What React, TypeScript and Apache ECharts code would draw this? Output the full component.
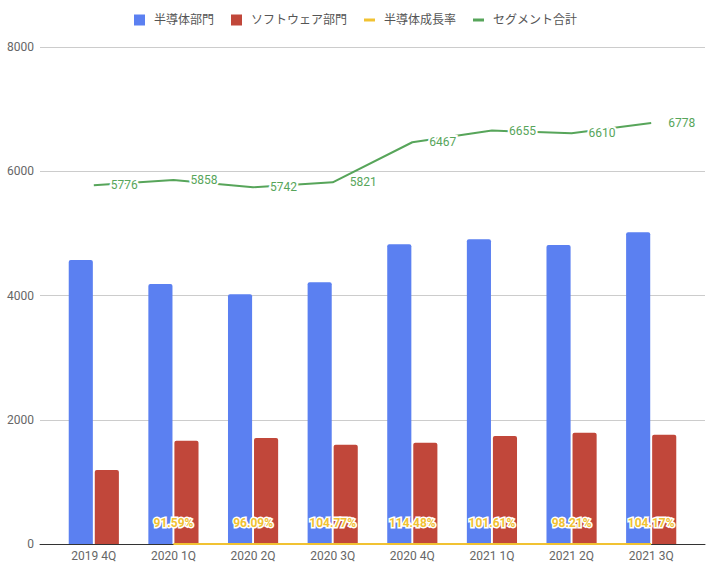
import React, { useEffect, useRef } from "react";
import * as echarts from "echarts";

const categories = ["2019 4Q", "2020 1Q", "2020 2Q", "2020 3Q", "2020 4Q", "2021 1Q", "2021 2Q", "2021 3Q"];
const semiconductor = [4570, 4185, 4022, 4215, 4826, 4905, 4813, 5018];
const software = [1190, 1660, 1708, 1596, 1628, 1740, 1790, 1757];
const growthPct: (number | null)[] = [null, 91.59, 96.09, 104.77, 114.48, 101.61, 98.21, 104.17];
const segmentTotal = [5776, 5858, 5742, 5821, 6467, 6655, 6610, 6778];
const yTicks = [0, 2000, 4000, 6000, 8000];

const BLUE = "#5B80F1";
const RED = "#C1473A";
const YELLOW = "#F1C232";
const GREEN = "#57A55A";
const FONT = "Roboto, 'Noto Sans CJK JP', sans-serif";

const lineIcon = "path://M0,0M0,4L11,4L11,7L0,7ZM11,11";

export default function App() {
  const ref = useRef<HTMLDivElement>(null);
  useEffect(() => {
    if (!ref.current) return;
    const chart = echarts.init(ref.current, undefined, { renderer: "svg" });
    const yMin = yTicks[0];
    const yMax = yTicks[yTicks.length - 1];
    chart.setOption({
      animation: false,
      textStyle: { fontFamily: FONT },
      legend: {
        top: 9,
        left: "center",
        itemWidth: 11,
        itemHeight: 11,
        itemGap: 17,
        textStyle: { color: "#555", fontSize: 12, fontFamily: FONT, padding: [0, 0, 0, 4] },
        data: [
          { name: "半導体部門", icon: "rect" },
          { name: "ソフトウェア部門", icon: "rect" },
          { name: "半導体成長率", icon: lineIcon, itemStyle: { color: YELLOW } },
          { name: "セグメント合計", icon: lineIcon, itemStyle: { color: GREEN } },
        ],
      },
      grid: [
        { left: 40, right: 6, top: 47, bottom: 29 },
        { left: 54, right: 20, top: 47, bottom: 29 },
      ],
      xAxis: [
        {
          gridIndex: 0,
          type: "value",
          min: 0,
          max: 1,
          axisTick: { show: false },
          axisLabel: { show: false },
          splitLine: { show: false },
          axisLine: { show: true, onZero: false, lineStyle: { color: "#333", width: 1 } },
        },
        {
          gridIndex: 1,
          type: "category",
          data: categories,
          axisTick: { show: false },
          axisLine: { show: false },
          axisLabel: { color: "#666", fontSize: 12, margin: 6, fontFamily: FONT },
        },
      ],
      yAxis: [
        {
          gridIndex: 0,
          type: "value",
          min: yMin,
          max: yMax,
          interval: 2000,
          axisLine: { show: false },
          axisTick: { show: false },
          axisLabel: { color: "#666", fontSize: 12, margin: 6, fontFamily: FONT, formatter: (v: number) => String(v) },
          splitLine: { lineStyle: { color: "#ccc", width: 1 } },
        },
        {
          gridIndex: 1,
          type: "value",
          min: yMin,
          max: yMax,
          interval: 2000,
          axisLine: { show: false },
          axisTick: { show: false },
          axisLabel: { show: false },
          splitLine: { show: false },
        },
      ],
      series: [
        {
          name: "半導体部門",
          type: "bar",
          xAxisIndex: 1,
          yAxisIndex: 1,
          data: semiconductor,
          barGap: "8%",
          barCategoryGap: "37%",
          itemStyle: { color: BLUE, borderRadius: [2, 2, 0, 0] },
        },
        {
          name: "ソフトウェア部門",
          type: "bar",
          xAxisIndex: 1,
          yAxisIndex: 1,
          data: software,
          itemStyle: { color: RED, borderRadius: [2, 2, 0, 0] },
        },
        {
          name: "半導体成長率",
          type: "line",
          xAxisIndex: 1,
          yAxisIndex: 1,
          data: growthPct.map((v) => (v == null ? null : v / 100)),
          symbol: "circle",
          symbolSize: 0,
          showSymbol: true,
          z: 5,
          lineStyle: { color: YELLOW, width: 2 },
          itemStyle: { color: YELLOW },
          label: {
            show: true,
            position: "top",
            distance: 15,
            color: YELLOW,
            fontWeight: "bold",
            fontSize: 12,
            fontFamily: FONT,
            textBorderColor: "#fff",
            textBorderWidth: 3,
            formatter: (p: any) => {
              const v = growthPct[p.dataIndex];
              return v == null ? "" : v.toFixed(2) + "%";
            },
          },
        },
        {
          name: "セグメント合計",
          type: "line",
          xAxisIndex: 1,
          yAxisIndex: 1,
          data: segmentTotal,
          symbol: "circle",
          symbolSize: 0,
          showSymbol: true,
          z: 5,
          lineStyle: { color: GREEN, width: 2 },
          itemStyle: { color: GREEN },
          label: {
            show: true,
            position: "right",
            distance: 17,
            color: GREEN,
            fontSize: 12,
            fontFamily: FONT,
            textBorderColor: "#fff",
            textBorderWidth: 4,
          },
        },
      ],
    });
    return () => chart.dispose();
  }, []);
  return (
    <div
      ref={ref}
      style={{ position: "fixed", left: 0, top: 0, width: 711, height: 573, background: "#fff" }}
    />
  );
}
